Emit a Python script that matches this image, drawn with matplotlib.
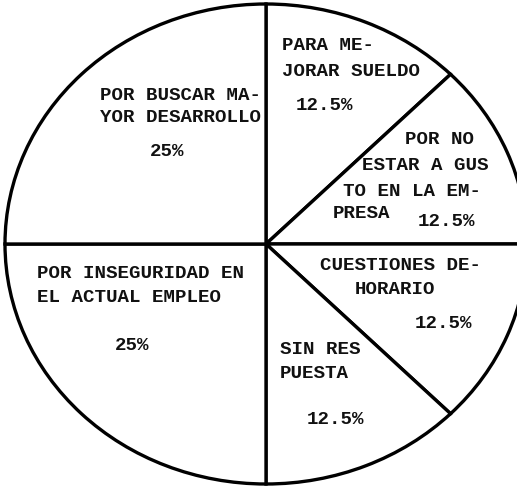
import matplotlib.pyplot as plt

# slices, clockwise from the top
labels = [
    'PARA ME-\nJORAR SUELDO',
    'POR NO\nESTAR A GUS\nTO EN LA EM-\nPRESA',
    'CUESTIONES DE-\nHORARIO',
    'SIN RES\nPUESTA',
    'POR INSEGURIDAD EN\nEL ACTUAL EMPLEO',
    'POR BUSCAR MA-\nYOR DESARROLLO',
]
values = [12.5, 12.5, 12.5, 12.5, 25, 25]
pct_text = [f'{v:g}%' for v in values]

W, H = 517, 488
CX, CY, RX, RY = 266, 244, 261, 240
# text lines placed by hand (pixel x, pixel y from top)
line_pos = [
    [(282, 46), (282, 72)],
    [(405, 140), (362, 166), (343, 192), (333, 213)],
    [(320, 265), (355, 289)],
    [(280, 350), (280, 373)],
    [(37, 273), (37, 298)],
    [(100, 96), (100, 118)],
]
pct_pos = [(296, 106), (418, 222), (415, 323), (307, 420), (115, 345), (150, 152)]


def main():
    fig = plt.figure(figsize=(W / 100, H / 100), dpi=100)
    ax = fig.add_axes([0, 0, 1, 1])

    ax.pie(values, startangle=90, counterclock=False,
           colors=['white'] * len(values),
           wedgeprops=dict(edgecolor='black', linewidth=2.4))
    ax.set_aspect('auto')
    ax.set_xlim(-CX / RX, (W - CX) / RX)
    ax.set_ylim(-(H - CY) / RY, CY / RY)
    ax.axis('off')

    font = dict(family='Liberation Mono', fontsize=13.8, weight='bold',
                color='#111111', va='center', ha='left')
    for lab, pos in zip(labels, line_pos):
        for line, (px, py) in zip(lab.split('\n'), pos):
            fig.text(px / W, 1 - py / H, line, **font)
    for txt, (px, py) in zip(pct_text, pct_pos):
        fig.text(px / W, 1 - py / H, txt, **font)

    fig.savefig('out.png', dpi=100, facecolor='white')


if __name__ == '__main__':
    main()
